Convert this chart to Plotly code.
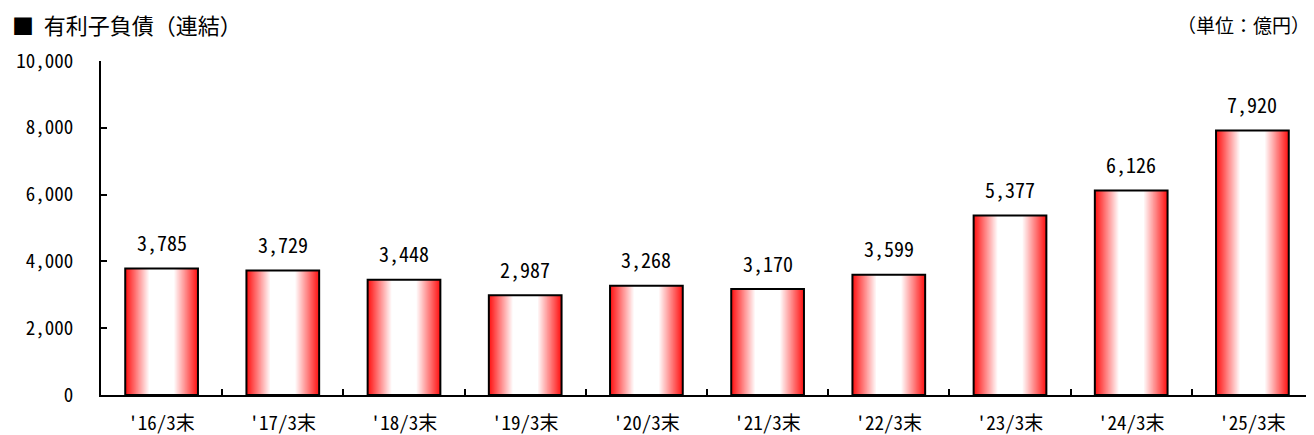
import plotly.graph_objects as go

categories = ["'16/3末", "'17/3末", "'18/3末", "'19/3末", "'20/3末",
              "'21/3末", "'22/3末", "'23/3末", "'24/3末", "'25/3末"]
debt = [3785, 3729, 3448, 2987, 3268, 3170, 3599, 5377, 6126, 7920]
y_ticks = [0, 2000, 4000, 6000, 8000, 10000]

FONT = "Noto Sans Mono CJK JP, Noto Sans CJK JP, monospace"
TITLE_FONT = "Noto Sans CJK JP, sans-serif"
BAR_W = 0.6
N_LAYERS = 40

fig = go.Figure()

# fake a horizontal red -> white -> red gradient by stacking narrower, lighter bars
for k in range(N_LAYERS):
    t = k / N_LAYERS
    mix = min(1.0, t / 0.65)
    g = int(20 + (255 - 20) * mix)
    fig.add_trace(go.Bar(
        x=categories, y=debt, width=BAR_W * (1 - t),
        marker=dict(color=f"rgb(255,{g},{g})", line=dict(width=0)),
        hoverinfo="skip", showlegend=False,
    ))

# outline
fig.add_trace(go.Bar(
    x=categories, y=debt, width=BAR_W,
    marker=dict(color="rgba(0,0,0,0)", line=dict(color="black", width=2)),
    showlegend=False,
))

for c, v in zip(categories, debt):
    fig.add_annotation(x=c, y=v, text=f"{v:,}", showarrow=False, yshift=26,
                       font=dict(size=20, color="black", family=FONT))

fig.add_annotation(x=0, y=1, xref="paper", yref="paper", xanchor="left", yanchor="middle",
                   text="■  有利子負債（連結）", showarrow=False,
                   xshift=-91, yshift=37, font=dict(size=22, color="black", family=TITLE_FONT))
fig.add_annotation(x=1, y=1, xref="paper", yref="paper", xanchor="right", yanchor="middle",
                   text="（単位：億円）", showarrow=False, xshift=-1, yshift=37,
                   font=dict(size=19, color="black", family=TITLE_FONT))

fig.update_layout(
    width=1306, height=427,
    margin=dict(l=93, r=1, t=53, b=40),
    barmode="overlay",
    plot_bgcolor="white", paper_bgcolor="white",
    font=dict(family=FONT, size=19, color="black"),
    xaxis=dict(range=[-0.5, 9.5], showline=True, linecolor="black", linewidth=2,
               ticks="inside", tickson="boundaries", ticklen=6, tickcolor="black", tickwidth=2,
               ticklabelstandoff=10, tickfont=dict(size=19), showgrid=False, fixedrange=True),
    yaxis=dict(range=[0, 10000], tickvals=y_ticks, ticktext=[f"{v:,}" for v in y_ticks],
               showline=True, linecolor="black", linewidth=2,
               ticks="inside", ticklen=6, tickcolor="black", tickwidth=2,
               ticklabelstandoff=22, tickfont=dict(size=19),
               showgrid=False, zeroline=False, fixedrange=True),
)

fig.write_html("out.html")
